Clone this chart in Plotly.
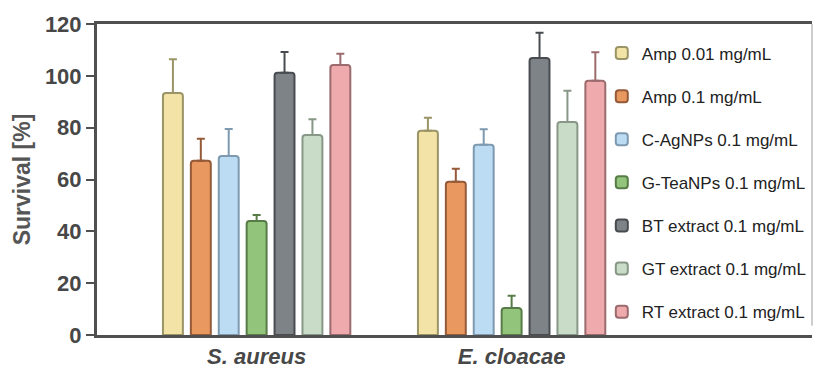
import plotly.graph_objects as go

# Bacterial strains (x groups)
strains = ["S. aureus", "E. cloacae"]
strain_labels = ["<b><i>S. aureus</i></b>", "<b><i>E. cloacae</i></b>"]

# Treatments (one bar per strain)
treatments = [
    "Amp 0.01 mg/mL",
    "Amp 0.1 mg/mL",
    "C-AgNPs 0.1 mg/mL",
    "G-TeaNPs 0.1 mg/mL",
    "BT extract 0.1 mg/mL",
    "GT extract 0.1 mg/mL",
    "RT extract 0.1 mg/mL",
]

# Survival [%] per treatment: [S. aureus, E. cloacae]
amp_001 = [93.4, 78.8]
amp_01 = [67.2, 59.1]
c_agnps = [69.1, 73.4]
g_teanps = [44.0, 10.4]
bt_extract = [101.2, 106.9]
gt_extract = [77.2, 82.2]
rt_extract = [104.2, 98.1]

# Standard deviations (upper error bars)
amp_001_err = [13.0, 5.0]
amp_01_err = [8.5, 5.0]
c_agnps_err = [10.4, 6.0]
g_teanps_err = [2.3, 4.7]
bt_extract_err = [8.0, 9.7]
gt_extract_err = [6.0, 12.0]
rt_extract_err = [4.3, 11.0]

values = [amp_001, amp_01, c_agnps, g_teanps, bt_extract, gt_extract, rt_extract]
errors = [amp_001_err, amp_01_err, c_agnps_err, g_teanps_err,
          bt_extract_err, gt_extract_err, rt_extract_err]

fill_colors = ["#F3E3A6", "#E99860", "#BBDCF3", "#93C47C", "#7E8387", "#C9DCC8", "#EEAAAC"]
edge_colors = ["#9A9466", "#955A38", "#7D9AB0", "#587C47", "#484C50", "#879886", "#9C6B6E"]

x_pos = list(range(len(strains)))

fig = go.Figure()
for name, vals, errs, fc, ec in zip(treatments, values, errors, fill_colors, edge_colors):
    fig.add_trace(go.Bar(
        x=x_pos,
        y=vals,
        name=name,
        legendgroup=name,
        marker=dict(color=fc, line=dict(color=ec, width=2), cornerradius=3),
        error_y=dict(
            type="data",
            symmetric=False,
            array=errs,
            arrayminus=[0] * len(errs),
            color=ec,
            thickness=2,
            width=4,
        ),
    ))

axis_color = "#505050"
text_color = "#474747"

fig.update_layout(
    width=813,
    height=368,
    margin=dict(l=97, r=1, t=24, b=33, autoexpand=False),
    paper_bgcolor="white",
    plot_bgcolor="white",
    barmode="group",
    bargap=0.234,
    bargroupgap=0.286,
    showlegend=True,
    font=dict(family="Liberation Sans, Arial, sans-serif", color=text_color),
    legend=dict(
        x=0.706,
        xanchor="left",
        y=0.963,
        yanchor="top",
        bgcolor="rgba(0,0,0,0)",
        borderwidth=0,
        font=dict(size=17, color="#222222"),
        traceorder="grouped",
        tracegroupgap=18,
        itemwidth=30,
    ),
    xaxis=dict(
        range=[-0.626, 2.178],
        tickmode="array",
        tickvals=x_pos,
        ticktext=strain_labels,
        tickfont=dict(size=22, color=text_color),
        showline=True,
        linecolor=axis_color,
        linewidth=3,
        mirror=True,
        ticks="",
        showgrid=False,
        zeroline=False,
        automargin=False,
    ),
    yaxis=dict(
        range=[0, 120],
        tickmode="array",
        tickvals=[0, 20, 40, 60, 80, 100, 120],
        ticktext=["<b>%d</b>" % v for v in [0, 20, 40, 60, 80, 100, 120]],
        tickfont=dict(size=22, color=text_color),
        ticks="outside",
        ticklen=8,
        tickwidth=2,
        tickcolor=axis_color,
        showline=True,
        linecolor=axis_color,
        linewidth=3,
        showgrid=False,
        zeroline=False,
        automargin=False,
        title=dict(
            text="<b>Survival [%]</b>",
            font=dict(size=23, color="#555555"),
            standoff=8,
        ),
    ),
    shapes=[
        dict(type="line", xref="paper", yref="paper",
             x0=1, x1=1, y0=0.03, y1=1,
             line=dict(color="#9A9A9A", width=1)),
    ],
)

fig.write_html("out.html")
